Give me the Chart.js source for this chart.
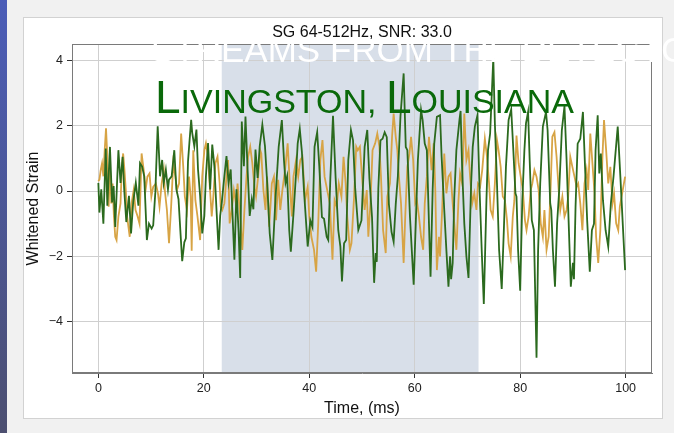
<!DOCTYPE html>
<html>
<head>
<meta charset="utf-8">
<script src="https://cdn.jsdelivr.net/npm/chart.js@4.4.0/dist/chart.umd.min.js"></script>
<style>
  html, body { margin: 0; padding: 0; }
  body { width: 674px; height: 433px; position: relative; overflow: hidden; background: #f1f1f1; font-family: "Liberation Sans", Arial, sans-serif; }
  #strip { position: absolute; left: 0; top: 0; width: 7px; height: 433px; background: linear-gradient(#4b5db8, #4c4f70); }
  #card { position: absolute; left: 23px; top: 17px; width: 638px; height: 400px; background: #fff; border: 1px solid #d2d2d2; }
  #wrap { position: absolute; left: 0; top: 0; width: 674px; height: 433px; }
  #banner { position: absolute; left: 151px; top: 32px; line-height: 35px; font-size: 35px; color: #fff; white-space: nowrap; }
  #place { position: absolute; left: 155px; top: 74px; line-height: 46px; font-size: 34px; color: #0a690a; white-space: nowrap; }
  #place .cap { font-size: 46px; }
</style>
</head>
<body>
<div id="strip"></div>
<div id="card"></div>
<div id="wrap"><canvas id="strain-g" width="674" height="433"></canvas></div>
<div id="banner">STREAMS FROM THE DETECTORS</div>
<div id="place"><span class="cap">L</span>IVINGSTON, <span class="cap">L</span>OUISIANA</div>
<script>
const greenTime = [
  0.0, 0.2, 0.55, 0.95, 1.4, 1.7, 2.2, 2.6, 2.9, 3.2,
  3.8, 4.2, 4.6, 4.9, 5.3, 5.8, 6.2, 6.6, 7.1, 7.6,
  7.9, 8.3, 8.7, 9.2, 9.6, 10.1, 10.4, 10.8, 11.25, 11.7,
  12.1, 12.4, 12.8, 13.2, 13.4, 13.9, 14.4, 14.8, 15.2, 15.6,
  15.9, 16.3, 16.6, 17.0, 17.3, 17.6, 17.8, 18.2, 18.6, 18.9,
  19.3, 19.7, 20.1, 20.4, 20.8, 21.2, 21.6, 22.0, 22.4, 22.8,
  23.1, 23.4, 23.9, 24.3, 24.7, 25.1, 25.4, 25.8, 26.2, 26.6,
  26.9, 27.2, 27.6, 27.9, 28.3, 28.7, 29.1, 29.4, 29.8, 30.2,
  30.6, 31.1, 31.6, 32.0, 32.5, 33.0, 33.6, 34.2, 34.8, 35.2,
  35.5, 35.8, 36.2, 36.5, 37.0, 37.5, 37.8, 38.2, 38.6, 39.0,
  39.7, 40.2, 40.6, 41.0, 41.5, 41.9, 42.4, 42.8, 43.3, 43.6,
  44.0, 44.5, 45.0, 45.5, 45.9, 46.2, 46.6, 47.0, 47.4, 47.9,
  48.3, 48.7, 49.3, 49.9, 50.5, 51.0, 51.4, 51.9, 52.3, 52.6,
  52.8, 53.1, 53.5, 53.9, 54.3, 54.7, 55.1, 55.6, 56.0, 56.4,
  56.8, 57.3, 57.9, 58.3, 58.6, 59.1, 59.8, 60.3, 60.6, 61.2,
  61.5, 61.9, 62.3, 62.7, 63.0, 63.4, 63.7, 64.2, 64.8, 65.1,
  65.6, 66.0, 66.4, 66.7, 66.9, 67.2, 67.5, 67.9, 68.5, 68.7,
  69.0, 69.4, 69.8, 70.2, 70.7, 71.0, 71.4, 71.9, 72.3, 72.7,
  73.1, 73.6, 73.9, 74.3, 74.9, 75.2, 75.6, 76.0, 76.5, 76.9,
  77.3, 77.8, 78.3, 78.7, 79.1, 79.3, 79.6, 80.0, 80.4, 80.8,
  81.1, 81.5, 81.8, 82.2, 82.6, 83.1, 83.4, 83.8, 84.3, 84.9,
  85.2, 85.7, 85.9, 86.2, 86.6, 87.0, 87.4, 87.9, 88.4, 88.8,
  89.2, 89.6, 90.0, 90.2, 90.5, 90.9, 91.4, 91.9, 92.3, 92.7,
  93.2, 93.6, 94.0, 94.3, 94.7, 95.0, 95.3, 95.7, 96.2, 96.7,
  97.2, 97.7, 98.5, 99.0, 99.9
];
const greenStrain = [
  0.25, -0.66, 0.05, -1.0, 1.3, -0.45, 1.35, -0.35, 0.15, -1.1,
  1.25, 0.25, 1.05, 0.05, -0.95, -0.15, -1.3, -0.35, 0.25, -0.45,
  0.85, 0.75, 0.45, -1.5, -1.0, -1.15, -1.05, -0.05, 1.98, 0.45,
  0.95, 0.25, 0.65, 0.05, 0.35, 0.45, 1.25, 0.05, -0.25, -1.35,
  -2.15, -1.57, -1.45, 0.9, 1.55, 2.18, 1.78, 1.37, 1.88, 0.66,
  -0.15, -1.3, -0.76, 0.46, 1.47, 0.05, 1.42, 0.76, -0.56, -1.8,
  -0.76, -0.36, 0.46, 1.07, 0.25, 0.66, -0.56, -2.1, 0.05, -1.27,
  -2.66, 2.13, 0.76, 2.28, 0.66, -0.76, -0.25, -0.56, 1.27, 0.4,
  1.37, 2.03, 1.37, 0.3, -1.3, -2.11, -0.2, 1.35, 2.17, 0.95,
  0.25, 0.45, -1.2, -1.86, -0.7, 0.55, 1.45, 1.9, 1.2, 0.0,
  -1.7, -0.9, -1.1, 1.35, 1.8, 0.75, -0.8, -0.85, -1.4, -1.5,
  0.4, 2.3, 0.4, -1.2, -1.7, -2.77, -1.6, -1.5, 0.95, 1.87,
  1.55, 0.1, -1.19, -0.9, 1.35, 1.87, 0.4, -0.8, -2.81, -1.9,
  -2.17, 0.1, 1.55, 1.6, 1.8, 1.65, -0.4, -1.25, -1.55, -0.4,
  0.45, 2.3, 3.6, 1.35, 1.25, -0.8, -2.87, -0.5, 0.95, 2.48,
  2.17, 1.45, 1.25, -1.0, -2.62, 0.03, 1.45, 2.27, 2.32, 1.05,
  -0.58, -1.8, -2.93, -2.0, -2.7, -2.2, -0.2, 1.25, 2.2, 2.45,
  0.65, -0.99, -2.0, -2.66, 0.23, 1.35, 1.97, 2.32, 0.03, -1.8,
  -3.46, -0.28, 1.25, 1.76, 4.06, 2.07, 0.23, -1.8, -3.0, -1.2,
  0.74, 2.17, 2.5, 1.25, -0.07, -0.17, -1.8, -3.05, -0.28, 1.25,
  2.07, 2.42, 0.95, -0.89, -1.2, -5.1, -1.8, 0.23, 1.97, 2.42,
  1.86, -0.38, -0.58, -1.8, -2.93, -0.99, 0.03, 1.86, 2.6, 0.95,
  -0.99, -2.93, -2.2, -2.7, -0.48, 1.45, 1.6, 2.42, 0.74, -0.89,
  -2.47, -1.2, -1.0, 1.25, 2.32, 0.54, 1.15, -0.28, -1.2, -1.7,
  -0.38, 0.44, 1.97, 0.44, -2.42
];
const orangeTime = [
  0.0, 0.2, 0.45, 0.7, 0.95, 1.2, 1.45, 1.7, 1.95, 2.2,
  2.45, 2.7, 2.95, 3.2, 3.45, 3.8, 4.2, 4.45, 4.7, 4.95,
  5.2, 5.45, 5.7, 5.95, 6.3, 6.7, 7.05, 7.45, 7.8, 8.2,
  8.6, 8.95, 9.3, 9.7, 10.05, 10.4, 10.9, 11.3, 11.6, 12.0,
  12.4, 12.6, 13.0, 13.4, 13.8, 14.2, 14.6, 14.9, 15.3, 15.7,
  16.1, 16.4, 16.8, 17.2, 17.5, 17.7, 18.0, 18.4, 18.8, 19.3,
  19.7, 20.1, 20.4, 20.8, 21.1, 21.5, 21.8, 22.2, 22.6, 23.0,
  23.2, 23.5, 23.9, 24.3, 24.6, 24.9, 25.3, 25.7, 26.1, 26.4,
  26.9, 27.3, 27.7, 28.1, 28.4, 28.8, 29.2, 29.6, 29.9, 30.3,
  30.7, 30.9, 31.3, 31.7, 32.0, 32.4, 32.9, 33.3, 33.7, 34.1,
  34.5, 34.9, 35.4, 35.9, 36.3, 36.7, 37.0, 37.5, 37.9, 38.3,
  38.7, 39.2, 39.7, 40.0, 40.4, 40.9, 41.3, 41.7, 42.1, 42.5,
  42.9, 43.4, 43.9, 44.4, 44.8, 45.2, 45.6, 46.1, 46.5, 46.9,
  47.2, 47.7, 48.0, 48.5, 48.9, 49.2, 49.6, 50.1, 50.5, 50.9,
  51.2, 51.6, 52.0, 52.5, 52.9, 53.3, 53.6, 54.0, 54.5, 54.8,
  55.3, 55.7, 56.0, 56.4, 56.7, 57.0, 57.4, 57.9, 58.2, 58.6,
  59.0, 59.3, 59.7, 60.1, 60.4, 60.8, 61.2, 61.6, 61.9, 62.3,
  62.7, 63.2, 63.6, 63.9, 64.2, 64.6, 64.8, 65.2, 65.6, 66.0,
  66.4, 66.8, 67.2, 67.5, 67.9, 68.3, 68.6, 69.0, 69.4, 69.8,
  70.2, 70.5, 70.9, 71.3, 71.7, 72.0, 72.4, 72.8, 73.3, 73.7,
  74.1, 74.4, 74.8, 75.2, 75.6, 75.9, 76.3, 76.7, 77.1, 77.5,
  77.8, 78.2, 78.6, 78.9, 79.3, 79.7, 80.1, 80.5, 80.9, 81.2,
  81.6, 82.0, 82.3, 82.7, 83.1, 83.5, 83.9, 84.3, 84.6, 85.0,
  85.4, 85.8, 86.1, 86.5, 86.9, 87.3, 87.6, 88.0, 88.4, 88.8,
  89.1, 89.5, 89.9, 90.3, 90.7, 91.0, 91.4, 91.8, 92.2, 92.6,
  92.9, 93.3, 93.7, 94.1, 94.4, 94.8, 95.2, 95.6, 95.9, 96.3,
  96.7, 97.1, 97.5, 97.8, 98.2, 98.6, 98.9, 99.9
];
const orangeStrain = [
  0.3, 0.35, 0.65, 0.85, 0.45, 1.25, 1.92, 1.05, -0.48, 0.74,
  -0.38, 0.23, -0.78, -1.4, -1.5, -0.78, -0.38, 0.74, 1.15, 0.64,
  0.03, -0.78, -1.09, -1.4, -0.38, 0.03, -0.58, -0.78, -1.0, 1.15,
  0.64, 0.03, 0.44, 0.54, -0.17, 0.13, 0.23, -0.07, -0.48, 0.23,
  0.64, 0.03, -0.58, -1.6, -0.48, 0.85, 0.44, 0.03, 0.23, 1.76,
  0.74, -0.17, -0.58, 0.44, -0.17, -1.83, 1.25, -0.28, -0.78, -1.5,
  0.44, 1.25, 1.46, 1.05, 0.23, -0.78, -0.17, 0.85, 1.05, 0.23,
  -0.48, -0.58, -0.38, 0.44, 0.95, -0.99, -0.58, 0.03, -0.38, 0.23,
  -0.78, -1.8, -0.58, 0.44, 1.05, 1.36, 0.85, 0.13, -0.17, 0.44,
  1.25, 1.15, 0.03, -0.58, 0.44, -1.09, 0.23, 0.44, -0.89, 0.34,
  -0.58, 0.03, 0.64, 1.46, 0.23, -0.78, 0.44, 0.95, 0.44, 0.95,
  1.05, -0.28, 0.13, -0.78, -1.4, -1.8, -2.47, -0.99, 0.95, 1.56,
  0.44, 0.03, -0.38, -2.1, -0.28, -0.48, 0.23, -0.17, 1.05, 0.23,
  -0.78, -1.8, -1.6, -0.17, 1.36, 1.25, 1.36, 0.23, -0.58, 0.03,
  -1.4, -0.38, 1.25, 1.46, 1.76, 1.36, 0.44, -1.2, -1.9, -0.17,
  0.23, 1.66, 2.37, 1.66, 1.25, 0.44, -0.38, -2.2, -0.78, 0.74,
  1.15, 1.66, 0.95, -0.38, -0.28, -0.78, -1.4, -1.8, -0.38, 0.44,
  1.66, 0.64, 1.46, 0.03, -2.42, -1.4, -2.0, -0.58, 1.15, -0.07,
  0.44, 0.54, -0.38, -0.99, -1.8, -0.28, 0.54, 0.23, 2.37, 0.95,
  1.25, 0.44, -0.38, -0.07, -0.58, 0.23, 0.13, 0.64, 1.6, 1.05,
  0.23, -0.58, -0.78, 0.23, 1.56, 1.25, 0.74, -0.17, -0.28, -0.89,
  -1.6, -2.0, -0.78, -0.28, 1.7, 0.85, 0.44, 0.03, -0.89, -1.2,
  -0.78, 0.03, 0.23, 0.64, 0.44, 0.03, -0.99, -1.4, -0.58, -1.8,
  -1.4, 0.23, 1.66, 1.8, 1.05, 0.03, -0.58, -0.17, -0.78, -0.58,
  -0.17, 1.05, 0.74, 0.44, 0.13, 0.23, -0.38, -1.2, 0.23, 0.64,
  0.03, 1.76, 0.85, -0.07, -1.4, -2.2, -1.2, 1.05, 2.17, 1.25,
  0.23, 0.74, -0.38, -0.07, -0.99, -1.2, -0.48, 0.44
];
const xTicks = [0, 20, 40, 60, 80, 100];
const yTicks = [-4, -2, 0, 2, 4];
const shadeSpan = [23.4, 72.1];

const toPoints = (ts, vs) => ts.map((t, i) => ({x: t, y: vs[i]}));

// light blue band behind the grid
const shadePlugin = {
  id: 'shade',
  beforeDraw(chart) {
    const {ctx, chartArea, scales} = chart;
    const x0 = scales.x.getPixelForValue(shadeSpan[0]);
    const x1 = scales.x.getPixelForValue(shadeSpan[1]);
    ctx.save();
    ctx.fillStyle = '#d8dfe9';
    ctx.fillRect(x0, chartArea.top, x1 - x0, chartArea.bottom - chartArea.top);
    ctx.restore();
  }
};

// box round the plot + title centred over the axes
const framePlugin = {
  id: 'frame',
  afterDraw(chart) {
    const {ctx, chartArea} = chart;
    ctx.save();
    ctx.strokeStyle = '#7a7a7a';
    ctx.lineWidth = 1;
    ctx.strokeRect(Math.round(chartArea.left) + 0.5, Math.round(chartArea.top) + 0.5,
      Math.round(chartArea.right - chartArea.left) - 1, Math.round(chartArea.bottom - chartArea.top) - 1);
    ctx.fillStyle = '#111';
    ctx.font = '16px "Liberation Sans", Arial, sans-serif';
    ctx.textAlign = 'center';
    ctx.textBaseline = 'middle';
    ctx.fillText('SG 64-512Hz, SNR: 33.0', (chartArea.left + chartArea.right) / 2, 33);
    ctx.restore();
  }
};

const tickFont = {family: '"Liberation Sans", Arial, sans-serif', size: 12.5};
const titleFont = {family: '"Liberation Sans", Arial, sans-serif', size: 16};

const ctx = document.getElementById('strain-g');

new Chart(ctx, {
  type: 'line',
  data: {
    datasets: [{
      label: 'L1',
      data: toPoints(greenTime, greenStrain),
      borderColor: '#2b6a1e',
      borderWidth: 1.8,
      pointRadius: 0,
      tension: 0
    }, {
      label: 'H1',
      data: toPoints(orangeTime, orangeStrain),
      borderColor: '#d7a445',
      borderWidth: 1.8,
      pointRadius: 0,
      tension: 0
    }]
  },
  options: {
    responsive: false,
    animation: false,
    layout: {padding: {top: 44, right: 22, left: 0, bottom: 0}},
    plugins: {legend: {display: false}, tooltip: {enabled: false}, title: {display: false}},
    scales: {
      x: {
        type: 'linear', min: -5, max: 105,
        afterBuildTicks: s => { s.ticks = xTicks.map(v => ({value: v})); },
        afterFit: s => { s.height = 60; },
        ticks: {font: tickFont, color: '#222', padding: 3, maxRotation: 0},
        grid: {color: '#cfcfcf', tickColor: '#333', tickLength: 5},
        border: {color: '#7a7a7a'},
        title: {display: true, text: 'Time, (ms)', font: titleFont, color: '#111', padding: {top: 0, bottom: 15}}
      },
      y: {
        type: 'linear', min: -5.57, max: 4.5,
        afterBuildTicks: s => { s.ticks = yTicks.map(v => ({value: v})); },
        afterFit: s => { s.width = 72; },
        ticks: {font: tickFont, color: '#222', padding: 4, callback: v => String(v).replace('-', '\u2212')},
        grid: {color: '#cfcfcf', tickColor: '#333', tickLength: 5},
        border: {color: '#7a7a7a'},
        title: {display: true, text: 'Whitened Strain', font: titleFont, color: '#111', padding: {top: 24, bottom: 0}}
      }
    }
  },
  plugins: [shadePlugin, framePlugin]
});
</script>
</body>
</html>
